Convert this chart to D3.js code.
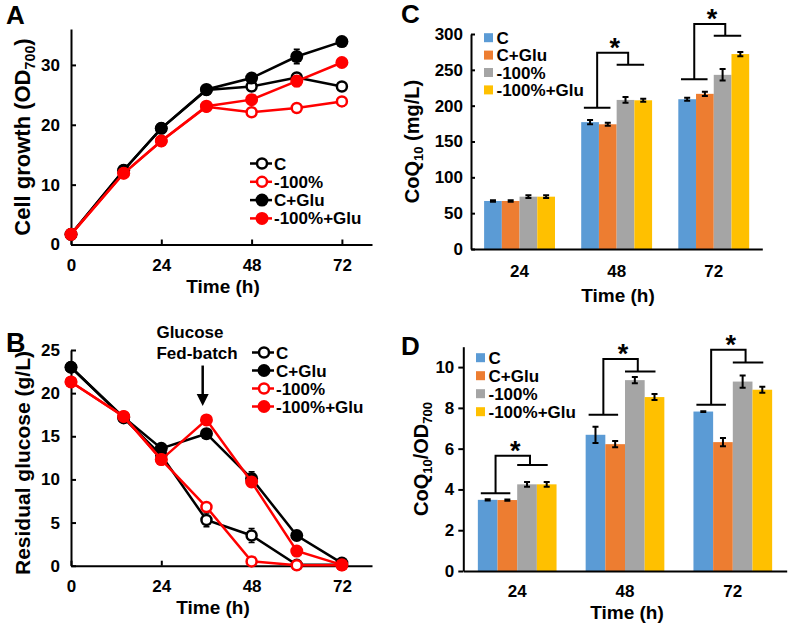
<!DOCTYPE html>
<html><head><meta charset="utf-8">
<script src="https://cdn.jsdelivr.net/npm/d3@7/dist/d3.min.js"></script>
<style>
body{margin:0;background:#fff}
svg text{font-family:Arial,"Liberation Sans",sans-serif;font-weight:bold;fill:#000}
</style>
</head><body>
<svg id="chart" width="794" height="624"></svg>
<script>
// ---------------- DATA ----------------
const lineTimes = [0, 14, 24, 36, 48, 60, 72];
const timeTicks = [0, 24, 48, 72];
const growthTicks = [0, 10, 20, 30];
const glucoseTicks = [0, 5, 10, 15, 20, 25];

// Panel A: cell growth (OD700)
const growthC       = [1.7, 12.4, 19.4, 25.8, 26.4, 27.9, 26.4];
const growthCErr    = [0.2, 0.3, 0.4, 0.6, 0.8, 0.6, 0.6];
const growth100     = [1.7, 11.9, 17.3, 23.0, 22.1, 22.8, 23.9];
const growth100Err  = [0.2, 0.3, 0.4, 0.4, 0.5, 0.5, 0.8];
const growthCGlu    = [1.7, 12.4, 19.4, 25.9, 27.8, 31.4, 33.9];
const growthCGluErr = [0.2, 0.3, 0.4, 0.5, 0.6, 1.2, 0.5];
const growth100Glu    = [1.7, 11.9, 17.3, 23.1, 24.2, 27.3, 30.4];
const growth100GluErr = [0.2, 0.3, 0.4, 0.5, 0.6, 0.9, 0.6];

// Panel B: residual glucose (g/L)
const glucC       = [23.0, 17.1, 12.8, 5.3, 3.5, 0.1, 0.1];
const glucCErr    = [0.2, 0.2, 0.3, 0.8, 0.8, 0.1, 0.1];
const glucCGlu    = [23.0, 17.2, 13.6, 15.3, 10.1, 3.5, 0.3];
const glucCGluErr = [0.2, 0.2, 0.3, 0.3, 0.8, 0.3, 0.1];
const gluc100     = [21.3, 17.3, 12.3, 6.8, 0.5, 0.05, 0.05];
const gluc100Err  = [0.2, 0.2, 0.3, 0.3, 0.2, 0.1, 0.1];
const gluc100Glu    = [21.3, 17.3, 12.3, 16.9, 9.7, 1.7, 0.1];
const gluc100GluErr = [0.2, 0.2, 0.3, 0.5, 0.4, 0.2, 0.1];
const feedTime = 35;   // glucose fed-batch arrow (h)

// Panels C & D: bar charts
const barTimes  = ["24", "48", "72"];
const barSeries = ["C", "C+Glu", "-100%", "-100%+Glu"];
const coqTicks  = [0, 50, 100, 150, 200, 250, 300];
const coqOdTicks = [0, 2, 4, 6, 8, 10];

const coqC       = [67, 177, 209];
const coqCErr    = [1, 3, 2];
const coqCGlu    = [67, 174, 216.5];
const coqCGluErr = [1, 2, 3];
const coq100     = [73, 208, 243];
const coq100Err  = [2, 4, 8];
const coq100Glu    = [73, 207.5, 272];
const coq100GluErr = [2, 2, 3];

const coqOdC       = [3.49, 6.68, 7.82];
const coqOdCErr    = [0.03, 0.4, 0.02];
const coqOdCGlu    = [3.48, 6.22, 6.32];
const coqOdCGluErr = [0.03, 0.15, 0.2];
const coqOd100     = [4.25, 9.36, 9.29];
const coqOd100Err  = [0.12, 0.15, 0.3];
const coqOd100Glu    = [4.25, 8.53, 8.89];
const coqOd100GluErr = [0.12, 0.15, 0.15];

// significance brackets: time, left level, top level, right level
const sigCTimes = ["48", "72"];
const sigCLeft  = [197, 237];
const sigCTop   = [274, 314];
const sigCRight = [257, 297.5];
const sigDTimes = ["24", "48", "72"];
const sigDLeft  = [3.81, 7.66, 8.15];
const sigDTop   = [5.65, 10.4, 10.85];
const sigDRight = [5.2, 9.78, 10.23];

// ---------------- DRAWING ----------------
const svg = d3.select("#chart");
svg.append("rect").attr("width", 794).attr("height", 624).attr("fill", "#fff");
const RED = "#ff0000", BLACK = "#000";
const barColors = ["#5b9bd5", "#ed7d31", "#a5a5a5", "#ffc000"];

function styleAxis(g, fs) {
  g.attr("font-family", null).attr("font-size", null);
  g.select(".domain").attr("stroke", "#000").attr("stroke-width", 2);
  g.selectAll(".tick line").attr("stroke", "#000").attr("stroke-width", 2);
  g.selectAll(".tick text").attr("font-size", fs).attr("fill", "#000");
}

function yTitle(x, y, size, parts) {
  const t = svg.append("text").attr("transform", `translate(${x},${y}) rotate(-90)`)
    .attr("text-anchor", "middle").attr("font-size", size);
  parts.forEach(p => {
    const ts = t.append("tspan").text(p.t);
    if (p.sub) ts.attr("font-size", size * 0.65).attr("dy", size * 0.22);
    if (p.after) ts.attr("dy", -size * 0.22);
  });
}

function linePanel(cfg) {
  const x = d3.scaleLinear().domain([0, 80]).range([cfg.left, cfg.right]);
  const y = d3.scaleLinear().domain([0, cfg.ymax]).range([cfg.bottom, cfg.top]);
  const g = svg.append("g");
  const ax = g.append("g").attr("transform", `translate(0,${cfg.bottom})`)
    .call(d3.axisBottom(x).tickValues(timeTicks).tickSizeInner(-5).tickSizeOuter(0).tickPadding(14));
  styleAxis(ax, 17);
  const ay = g.append("g").attr("transform", `translate(${cfg.left},0)`)
    .call(d3.axisLeft(y).tickValues(cfg.ticks).tickSizeInner(-5).tickSizeOuter(0).tickPadding(11));
  styleAxis(ay, 17);

  const lineGen = d3.line().x((d, i) => x(lineTimes[i])).y(d => y(d));
  cfg.series.forEach(s => {
    s.vals.forEach((v, i) => {
      const e = s.err[i]; if (e < 0.25) return;
      const cx = x(lineTimes[i]);
      g.append("path").attr("d",
        `M${cx},${y(v - e)}V${y(v + e)}M${cx - 3},${y(v - e)}H${cx + 3}M${cx - 3},${y(v + e)}H${cx + 3}`)
        .attr("stroke", s.color).attr("stroke-width", 1.5).attr("fill", "none");
    });
    g.append("path").datum(s.vals).attr("d", lineGen)
      .attr("fill", "none").attr("stroke", s.color).attr("stroke-width", 2.5);
    g.selectAll(null).data(s.vals).enter().append("circle")
      .attr("cx", (d, i) => x(lineTimes[i])).attr("cy", d => y(d))
      .attr("r", s.open ? 5 : 6.5)
      .attr("fill", s.open ? "#fff" : s.color)
      .attr("stroke", s.color).attr("stroke-width", s.open ? 2.5 : 0);
  });
  cfg.legendOrder.forEach((s, k) => {
    const ly = cfg.legY + k * cfg.legStep;
    g.append("line").attr("x1", cfg.legX).attr("x2", cfg.legX + 22).attr("y1", ly).attr("y2", ly)
      .attr("stroke", s.color).attr("stroke-width", 2.5);
    g.append("circle").attr("cx", cfg.legX + 12).attr("cy", ly).attr("r", s.open ? 5 : 6.5)
      .attr("fill", s.open ? "#fff" : s.color).attr("stroke", s.color).attr("stroke-width", s.open ? 2.5 : 0);
    g.append("text").attr("x", cfg.legX + 24).attr("y", ly + 6).attr("font-size", 17).text(s.name);
  });
  svg.append("text").attr("x", cfg.titleX).attr("y", cfg.bottom + 48).attr("text-anchor", "middle")
    .attr("font-size", 19).text("Time (h)");
  return {x, y, g};
}

// Panel A
const sA = {
  C:  {name: "C", vals: growthC, err: growthCErr, color: BLACK, open: true},
  P:  {name: "-100%", vals: growth100, err: growth100Err, color: RED, open: true},
  CG: {name: "C+Glu", vals: growthCGlu, err: growthCGluErr, color: BLACK, open: false},
  PG: {name: "-100%+Glu", vals: growth100Glu, err: growth100GluErr, color: RED, open: false}
};
linePanel({left: 71, right: 372, top: 29, bottom: 244.5, ymax: 36, ticks: growthTicks,
  series: [sA.C, sA.CG, sA.P, sA.PG], legendOrder: [sA.C, sA.P, sA.CG, sA.PG],
  legX: 250, legY: 163.5, legStep: 18.3, titleX: 223});
yTitle(30, 137, 22, [{t: "Cell growth (OD"}, {t: "700", sub: true}, {t: ")", after: true}]);
svg.append("text").attr("x", 6).attr("y", 24).attr("font-size", 26).text("A");

// Panel B
const sB = {
  C:  {name: "C", vals: glucC, err: glucCErr, color: BLACK, open: true},
  CG: {name: "C+Glu", vals: glucCGlu, err: glucCGluErr, color: BLACK, open: false},
  P:  {name: "-100%", vals: gluc100, err: gluc100Err, color: RED, open: true},
  PG: {name: "-100%+Glu", vals: gluc100Glu, err: gluc100GluErr, color: RED, open: false}
};
const pB = linePanel({left: 71, right: 372, top: 350, bottom: 565.7, ymax: 25, ticks: glucoseTicks,
  series: [sB.C, sB.CG, sB.P, sB.PG], legendOrder: [sB.C, sB.CG, sB.P, sB.PG],
  legX: 252, legY: 352.5, legStep: 18, titleX: 213});
yTitle(30, 463, 21, [{t: "Residual glucose (g/L)"}]);
svg.append("text").attr("x", 6).attr("y", 352).attr("font-size", 27).text("B");
const ax0 = pB.x(feedTime);
svg.append("text").attr("x", pB.x(22.7)).attr("y", 338).attr("font-size", 17).text("Glucose");
svg.append("text").attr("x", pB.x(22.7)).attr("y", 359).attr("font-size", 17).text("Fed-batch");
svg.append("line").attr("x1", ax0).attr("x2", ax0).attr("y1", pB.y(23.2)).attr("y2", pB.y(19.6))
  .attr("stroke", "#000").attr("stroke-width", 2.5);
svg.append("path").attr("d", `M${ax0 - 6},${pB.y(19.9)}L${ax0 + 6},${pB.y(19.9)}L${ax0},${pB.y(18.5)}Z`)
  .attr("fill", "#000");

// Bar panels
function barPanel(cfg) {
  const x0 = d3.scaleBand().domain(barTimes).range([cfg.left, cfg.right]).paddingInner(0.27).paddingOuter(0.135);
  const xs = d3.scaleBand().domain(barSeries).range([0, x0.bandwidth()]);
  const y = d3.scaleLinear().domain([0, cfg.ymax]).range([cfg.bottom, cfg.top]);
  const g = svg.append("g");
  cfg.vals.forEach((vals, si) => {
    g.selectAll(null).data(vals).enter().append("rect")
      .attr("x", (d, i) => x0(barTimes[i]) + xs(barSeries[si]))
      .attr("width", xs.bandwidth())
      .attr("y", d => y(d)).attr("height", d => y(0) - y(d))
      .attr("fill", barColors[si]);
  });
  cfg.vals.forEach((vals, si) => {
    vals.forEach((v, i) => {
      const e = cfg.errs[si][i];
      const cx = x0(barTimes[i]) + xs(barSeries[si]) + xs.bandwidth() / 2;
      g.append("path").attr("d",
        `M${cx},${y(v - e)}V${y(v + e)}M${cx - 3},${y(v - e)}H${cx + 3}M${cx - 3},${y(v + e)}H${cx + 3}`)
        .attr("stroke", "#000").attr("stroke-width", 2).attr("fill", "none");
    });
  });
  const ax = g.append("g").attr("transform", `translate(0,${cfg.bottom})`)
    .call(d3.axisBottom(x0).tickSize(0).tickPadding(cfg.xPad));
  styleAxis(ax, 17);
  const ay = g.append("g").attr("transform", `translate(${cfg.left},0)`)
    .call(d3.axisLeft(y).tickValues(cfg.ticks).tickSizeInner(cfg.tickIn ? -4 : 5).tickSizeOuter(0).tickPadding(cfg.tickIn ? 8 : 4));
  styleAxis(ay, 17);
  const bw = xs.bandwidth();
  cfg.sig.times.forEach((t, k) => {
    const s = x0(t);
    const yl = y(cfg.sig.left[k]), yt = y(cfg.sig.top[k]), yr = y(cfg.sig.right[k]);
    g.append("path").attr("d",
      `M${s + 0.15 * bw},${yl}H${s + 1.65 * bw}M${s + 0.9 * bw},${yl}V${yt}H${s + 2.65 * bw}V${yr}` +
      `M${s + 2.0 * bw},${yr}H${s + 3.55 * bw}`)
      .attr("stroke", "#000").attr("stroke-width", 2).attr("fill", "none");
    g.append("text").attr("x", s + 1.9 * bw).attr("y", yt + 4).attr("text-anchor", "middle")
      .attr("font-size", 27).text("*");
  });
  barSeries.forEach((name, k) => {
    const ly = cfg.legY + k * cfg.legStep;
    g.append("rect").attr("x", cfg.legX).attr("y", ly - 4.5).attr("width", 9).attr("height", 9).attr("fill", barColors[k]);
    g.append("text").attr("x", cfg.legX + 12.5).attr("y", ly + 6).attr("font-size", 17).text(name);
  });
  svg.append("text").attr("x", cfg.titleX).attr("y", cfg.titleY).attr("text-anchor", "middle")
    .attr("font-size", 19).text("Time (h)");
}

barPanel({left: 471, right: 762.3, top: 34, bottom: 249, ymax: 300, ticks: coqTicks, tickIn: true, xPad: 16,
  vals: [coqC, coqCGlu, coq100, coq100Glu], errs: [coqCErr, coqCGluErr, coq100Err, coq100GluErr],
  sig: {times: sigCTimes, left: sigCLeft, top: sigCTop, right: sigCRight},
  legX: 484, legY: 37.7, legStep: 17.4, titleX: 618, titleY: 302});
yTitle(419, 141.5, 20, [{t: "CoQ"}, {t: "10", sub: true}, {t: " (mg/L)", after: true}]);
svg.append("text").attr("x", 401).attr("y", 23).attr("font-size", 26).text("C");

barPanel({left: 463.3, right: 786.7, top: 346.7, bottom: 571, ymax: 11, ticks: coqOdTicks, tickIn: false, xPad: 14,
  vals: [coqOdC, coqOdCGlu, coqOd100, coqOd100Glu], errs: [coqOdCErr, coqOdCGluErr, coqOd100Err, coqOd100GluErr],
  sig: {times: sigDTimes, left: sigDLeft, top: sigDTop, right: sigDRight},
  legX: 476, legY: 357.7, legStep: 18, titleX: 627, titleY: 619});
yTitle(428, 459, 20, [{t: "CoQ"}, {t: "10", sub: true}, {t: "/OD", after: true}, {t: "700", sub: true}]);
svg.append("text").attr("x", 401).attr("y", 355).attr("font-size", 26).text("D");
</script>
</body></html>
